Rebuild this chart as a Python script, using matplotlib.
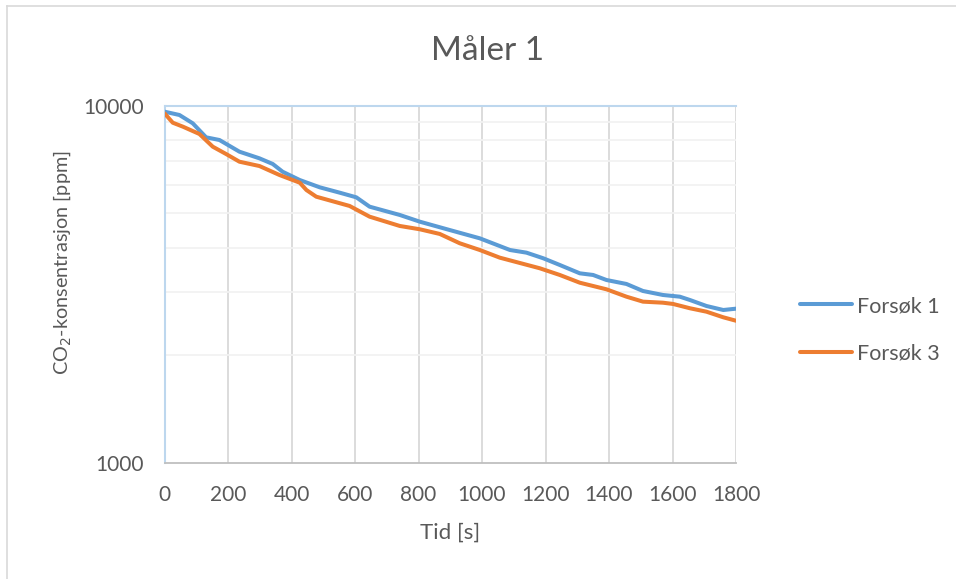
import matplotlib
matplotlib.use('Agg')
import matplotlib.pyplot as plt
from matplotlib.lines import Line2D
from matplotlib.ticker import FixedLocator, NullFormatter

# values
t1 = [0, 47, 89, 131, 173, 236, 299, 341, 372, 426, 489, 552, 604, 646, 741, 804,
      898, 993, 1088, 1140, 1193, 1245, 1308, 1350, 1392, 1455, 1507, 1570, 1623,
      1655, 1707, 1760, 1800]
forsok1 = [9610, 9407, 8916, 8147, 8008, 7427, 7116, 6861, 6528, 6188, 5904, 5703,
           5536, 5212, 4941, 4732, 4485, 4251, 3943, 3876, 3738, 3580, 3393, 3357,
           3250, 3168, 3028, 2951, 2919, 2857, 2749, 2679, 2702]

t3 = [0, 26, 58, 110, 152, 194, 236, 299, 362, 426, 447, 478, 583, 646, 741, 804,
      867, 930, 993, 1056, 1182, 1245, 1308, 1392, 1455, 1507, 1570, 1602, 1655,
      1707, 1760, 1800]
forsok3 = [9510, 8951, 8725, 8323, 7670, 7316, 6963, 6772, 6392, 6082, 5802, 5558,
           5236, 4887, 4603, 4506, 4372, 4117, 3943, 3753, 3505, 3357, 3194, 3061,
           2919, 2827, 2808, 2785, 2709, 2650, 2556, 2500]

xticks = list(range(0, 1801, 200))
yticks = [1000, 10000]
minor_y = [2000, 3000, 4000, 5000, 6000, 7000, 8000, 9000]

plt.rcParams['font.family'] = ['Lato', 'DejaVu Sans']
txt = '#595959'
W, H = 956, 579

fig = plt.figure(figsize=(W/100, H/100), dpi=100)
ax = fig.add_axes([164.5/W, 1-463/H, (736-164.5)/W, (463-105.5)/H])

ax.set_yscale('log')
ax.set_xlim(0, 1800)
ax.set_ylim(1000, 10000)

ax.plot(t1, forsok1, color='#5b9bd5', lw=2.9, label='Forsøk 1', solid_capstyle='round', zorder=3)
ax.plot(t3, forsok3, color='#ed7d31', lw=2.9, label='Forsøk 3', solid_capstyle='round', zorder=3)

ax.xaxis.set_major_locator(FixedLocator(xticks))
ax.yaxis.set_major_locator(FixedLocator(yticks))
ax.yaxis.set_minor_locator(FixedLocator(minor_y))
ax.yaxis.set_minor_formatter(NullFormatter())
ax.set_yticklabels([str(v) for v in yticks])
ax.set_xticklabels([str(v) for v in xticks])
ax.tick_params(axis='both', which='both', length=0, labelsize=15, labelcolor=txt)
ax.tick_params(axis='x', pad=16)
ax.tick_params(axis='y', pad=15)

ax.grid(axis='x', which='major', color='#d9d9d9', lw=1.3)
ax.grid(axis='y', which='minor', color='#f2f2f2', lw=1.3)
ax.set_axisbelow(True)

for s in ['left', 'top']:
    ax.spines[s].set_color('#bdd7ee')
    ax.spines[s].set_linewidth(1.5)
ax.spines['right'].set_visible(False)
ax.spines['bottom'].set_color('#bfbfbf')
ax.spines['bottom'].set_linewidth(1.3)

fig.text(450/W, 1-533/H, 'Tid [s]', fontsize=16, color=txt, ha='center', va='center')
fig.text(62/W, 1-263/H, 'CO$_2$-konsentrasjon [ppm]', fontsize=14.3, color=txt,
         ha='center', va='center', rotation=90)
fig.text(488/W, 1-51/H, 'Måler 1', fontsize=24, color=txt, ha='center', va='center')

fig.legend(loc='center left', bbox_to_anchor=(800/W, 1-330/H), frameon=False,
           fontsize=15.5, handlelength=2.4, handletextpad=0.25, labelspacing=1.3,
           borderpad=0, borderaxespad=0, labelcolor=txt)

# chart border (only left and top visible in the reference)
fig.add_artist(Line2D([7/W, 7/W], [0, 1-6/H], transform=fig.transFigure, color='#d9d9d9', lw=1.2))
fig.add_artist(Line2D([7/W, 1], [1-6/H, 1-6/H], transform=fig.transFigure, color='#d9d9d9', lw=1.2))

fig.savefig('out.png', dpi=100)
plt.close()
